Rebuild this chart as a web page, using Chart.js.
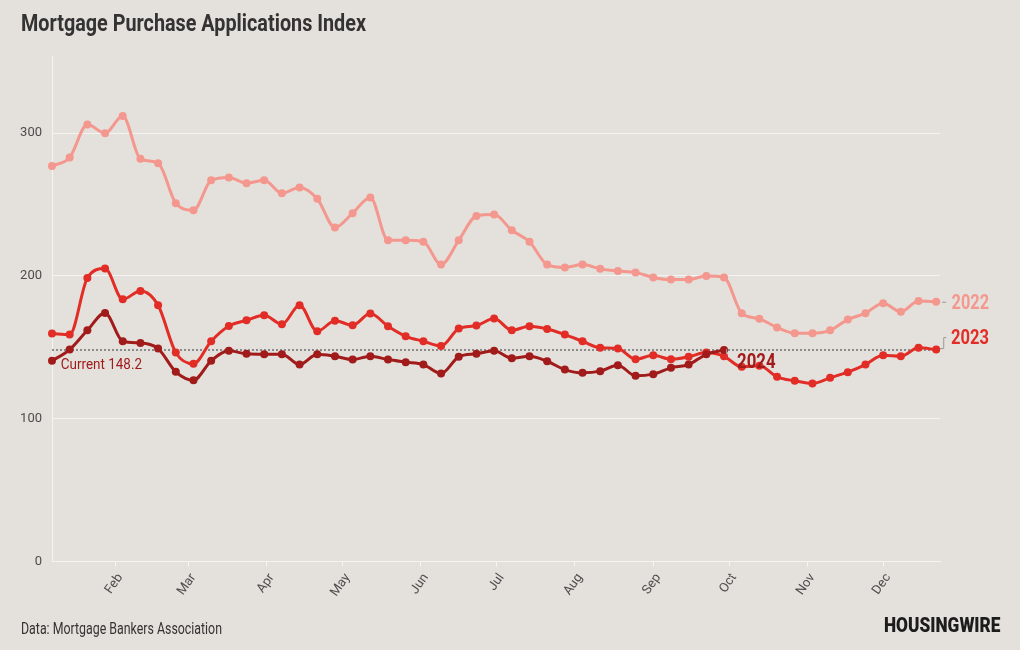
<!DOCTYPE html>
<html>
<head>
<meta charset="utf-8">
<script src="https://cdn.jsdelivr.net/npm/chart.js@4.4.1/dist/chart.umd.min.js"></script>
<style>
  html, body { margin: 0; padding: 0; background: #e4e1dc; }
  #wrap { position: relative; width: 1020px; height: 650px; overflow: hidden; background: #e4e1dc; }
  #c { position: absolute; left: 0; top: 0; }
  .txt { position: absolute; white-space: nowrap; transform-origin: 0 0; font-family: Roboto, "Noto Sans", sans-serif; }
  #title { left: 21px; top: 12px; font-size: 23.4px; line-height: 23.4px; font-weight: 700; color: #333333; }
  #source { left: 21px; top: 620.5px; font-size: 16px; line-height: 16px; font-weight: 400; color: #333333; }
  #logo { left: 883.5px; top: 615.7px; font-size: 19.7px; line-height: 19.7px; font-weight: 900; color: #1c1c1c; }
</style>
</head>
<body>
<div id="wrap">
  <canvas id="c" width="1020" height="650"></canvas>
  <div class="txt" id="title" data-w="345">Mortgage Purchase Applications Index</div>
  <div class="txt" id="source" data-w="201">Data: Mortgage Bankers Association</div>
  <div class="txt" id="logo" data-w="116.5">HOUSINGWIRE</div>
</div>
<script>
// ---------- DATA ----------
// day of year (offset from Jan 1) of each weekly reading
const weekDay = [6, 13, 20, 27, 34, 41, 48, 55, 62, 69, 76, 83, 90, 97, 104, 111, 118, 125, 132, 139,
                 146, 153, 160, 167, 174, 181, 188, 195, 202, 209, 216, 223, 230, 237, 244, 251, 258, 265, 272, 279,
                 286, 293, 300, 307, 314, 321, 328, 335, 342, 349, 356];
const monthTickDay = [31, 60, 91, 121, 152, 182, 213, 244, 274, 305, 335];
const monthLabel = ['Feb', 'Mar', 'Apr', 'May', 'Jun', 'Jul', 'Aug', 'Sep', 'Oct', 'Nov', 'Dec'];
const yTickValues = [0, 100, 200, 300];
const seriesNames = ['2022', '2023', '2024'];

const v2022 = [277, 283, 306, 300, 312, 282, 279, 251, 246, 267, 269, 265, 267, 258, 262, 254, 234, 244, 255, 225,
               225, 224, 208, 225, 242, 243, 232, 224, 208, 206, 208, 205, 203.5, 202.5, 199, 197.5, 197.5, 200, 199, 174,
               170, 164, 160, 160, 162, 169.5, 174, 181, 175, 182.5, 182];
const v2023 = [159.7, 159, 198.6, 205.2, 183.7, 189.5, 179.5, 146.4, 138.5, 154.3, 165, 169, 172.5, 166.2, 179.5, 161.3, 168.7, 165.5, 173.7, 164.8,
               157.8, 154.3, 151, 163.2, 165.3, 170.2, 162, 164.8, 162.9, 159, 154.3, 149.7, 149.2, 141.7, 144.5, 141.7, 143.4, 146.4, 143.8, 136.4,
               137.1, 129.4, 126.6, 124.8, 128.7, 132.7, 138, 144.5, 143.8, 149.7, 148.5];
const v2024 = [140.6, 148.5, 162, 174.1, 154.3, 153.1, 149.2, 132.9, 127.1, 140.6, 147.6, 145.5, 145.2, 145.2, 138, 145.2, 143.8, 141.5, 143.8, 141.5,
               139.7, 138, 131.7, 143.4, 145.5, 147.6, 142.4, 143.8, 140.3, 134.5, 132.2, 133.4, 137.6, 130.1, 131.3, 135.7, 138, 145.2, 148.2];
const currentValue = 148.2;
const currentLabel = 'Current 148.2';

// ---------- STYLE ----------
const C2022 = '#f4978e';
const C2023 = '#e22d27';
const C2024 = '#a11b1b';
const GRID = '#f6f4f1';
const TICK = '#4d4d4d';

// fit html text widths (condensed look)
document.querySelectorAll('.txt').forEach(el => {
  const w = el.getBoundingClientRect().width;
  const k = parseFloat(el.dataset.w) / w;
  el.style.transform = 'scaleX(' + k + ')';
});

function toPoints(vals) { return vals.map((v, i) => ({ x: weekDay[i], y: v })); }

function fitText(ctx, text, x, y, font, width, color) {
  ctx.save();
  ctx.font = font;
  ctx.fillStyle = color;
  ctx.textAlign = 'left';
  ctx.textBaseline = 'alphabetic';
  const w = ctx.measureText(text).width;
  ctx.translate(x, y);
  ctx.scale(width / w, 1);
  ctx.fillText(text, 0, 0);
  ctx.restore();
}

const labelPlugin = {
  id: 'labels',
  afterDatasetsDraw(chart) {
    const ctx = chart.ctx;
    const xs = chart.scales.x, ys = chart.scales.y;
    const area = chart.chartArea;
    const lastPt = (vals) => ({ x: xs.getPixelForValue(weekDay[vals.length - 1]), y: ys.getPixelForValue(vals[vals.length - 1]) });
    const p22 = lastPt(v2022), p23 = lastPt(v2023), p24 = lastPt(v2024);

    ctx.save();
    ctx.strokeStyle = '#9a9a9a';
    ctx.lineWidth = 1;
    // 2022 connector
    ctx.beginPath(); ctx.moveTo(p22.x + 6, p22.y + 0.5); ctx.lineTo(p22.x + 10, p22.y + 0.5); ctx.stroke();
    // 2023 connector
    ctx.beginPath();
    ctx.moveTo(p23.x + 4, p23.y - 1);
    ctx.lineTo(p23.x + 7.5, p23.y - 1);
    ctx.lineTo(p23.x + 7.5, p23.y - 12);
    ctx.lineTo(p23.x + 10, p23.y - 12);
    ctx.stroke();
    // 2024 connector
    ctx.beginPath(); ctx.moveTo(p24.x + 2.5, p24.y - 1); ctx.lineTo(p24.x + 2.5, p24.y + 4); ctx.stroke();
    ctx.restore();

    const f = '700 21px Roboto';
    fitText(ctx, seriesNames[0], area.right + 11.5, p22.y + 7, f, 37.5, C2022);
    fitText(ctx, seriesNames[1], area.right + 11, p23.y - 5.3, f, 38, C2023);
    fitText(ctx, seriesNames[2], p24.x + 13, p24.y + 18.5, f, 38.5, C2024);

    const cy = ys.getPixelForValue(currentValue);
    fitText(ctx, currentLabel, area.left + 8.7, cy + 19.3, '400 15.5px Roboto', 81.3, C2024);
  }
};

const lineDs = (label, vals, color, order) => ({
  label: label,
  data: toPoints(vals),
  borderColor: color,
  backgroundColor: color,
  pointBackgroundColor: color,
  pointBorderColor: color,
  pointBorderWidth: 0,
  pointRadius: 4,
  borderWidth: 3,
  cubicInterpolationMode: 'monotone',
  clip: false,
  order: order
});

new Chart(document.getElementById('c'), {
  type: 'line',
  data: {
    datasets: [
      lineDs(seriesNames[2], v2024, C2024, 0),
      lineDs(seriesNames[1], v2023, C2023, 1),
      lineDs(seriesNames[0], v2022, C2022, 2),
      {
        label: 'current',
        data: [{ x: weekDay[0], y: currentValue }, { x: weekDay[weekDay.length - 1], y: currentValue }],
        borderColor: '#8a8a8a',
        borderWidth: 2,
        borderDash: [2, 2],
        pointRadius: 0,
        clip: false,
        order: 3
      }
    ]
  },
  options: {
    responsive: false,
    maintainAspectRatio: false,
    animation: false,
    layout: { padding: { left: 0, top: 56, right: 80, bottom: 0 } },
    plugins: { legend: { display: false }, tooltip: { enabled: false } },
    scales: {
      x: {
        type: 'linear',
        min: 6,
        max: 357.5,
        afterBuildTicks: s => { s.ticks = monthTickDay.map(v => ({ value: v })); },
        afterFit: s => { s.height = 88.3; },
        ticks: {
          autoSkip: false, minRotation: 55, maxRotation: 55, padding: 4, labelOffset: 5,
          color: TICK, font: { family: 'Roboto', size: 13 },
          callback: (v, i) => monthLabel[i]
        },
        grid: { drawOnChartArea: false, drawTicks: true, tickLength: 5, color: GRID },
        border: { display: true, color: GRID }
      },
      y: {
        min: 0,
        max: 354,
        afterBuildTicks: s => { s.ticks = yTickValues.map(v => ({ value: v })); },
        afterFit: s => { s.width = 52; },
        ticks: { padding: 10, color: TICK, font: { family: 'Roboto', size: 13 } },
        grid: { color: GRID, drawTicks: false },
        border: { display: true, color: GRID }
      }
    }
  },
  plugins: [labelPlugin]
});
</script>
</body>
</html>
